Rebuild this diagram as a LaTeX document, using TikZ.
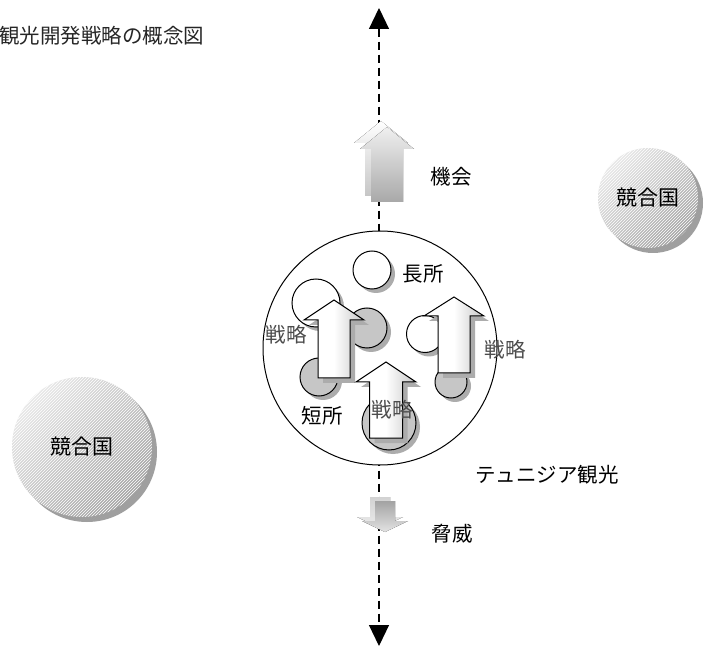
\documentclass[tikz,border=0pt]{standalone}
\usepackage{fontspec}
\setmainfont{Noto Sans CJK JP}
\usetikzlibrary{arrows.meta,shadows,patterns}
\newcommand\uparrowpath[6]{(#1-#5,#4) -- (#1-#5,#3) -- (#1-#6,#3) -- (#1,#2) -- (#1+#6,#3) -- (#1+#5,#3) -- (#1+#5,#4) -- cycle}
\newcommand\downarrowpath[6]{(#1-#5,#4) -- (#1-#5,#3) -- (#1-#6,#3) -- (#1,#2) -- (#1+#6,#3) -- (#1+#5,#3) -- (#1+#5,#4) -- cycle}
\tikzset{
  lbl/.style={inner sep=0pt, font=\fontsize{20.5pt}{24pt}\selectfont},
  stratlbl/.style={lbl, text=black!70},
  sc/.style={circle, draw=black, line width=1pt, inner sep=0pt,
    drop shadow={shadow xshift=4pt, shadow yshift=-4pt, fill=gray!65, opacity=1}},
  wcirc/.style={sc, fill=white},
  gcirc/.style={sc, fill=gray!45},
  rival/.style={circle, inner sep=0pt, top color=gray!18, bottom color=gray!72, shading angle=45,
    drop shadow={shadow xshift=5pt, shadow yshift=-5pt, fill=gray!75, opacity=1},
    postaction={pattern=north east lines, pattern color=white},
    font=\fontsize{21pt}{24pt}\selectfont},
  inarrow/.style={draw=black, line width=1pt, left color=white, right color=gray!45, middle color=white},
  inshadow/.style={fill=gray!65, xshift=5pt, yshift=-5pt},
  axis/.style={line width=1.2pt, dash pattern=on 8pt off 5pt,
    {Triangle[width=20pt,length=21pt]}-{Triangle[width=20pt,length=21pt]}},
}
\begin{document}
\begin{tikzpicture}[x=1pt,y=-1pt]
\useasboundingbox (0,0) rectangle (705,647);
\fill[white] (0,0) rectangle (705,647);

% title
\node[lbl, anchor=west, font=\fontsize{20.5pt}{24pt}\selectfont, text=black!85] (title) at (-1,36) {観光開発戦略の概念図};

% axis
\coordinate (top) at (379,8);
\coordinate (bot) at (379,646);
\draw[axis] (top) -- (bot);

% opportunity arrow
\fill[top color=white, bottom color=gray!45] \uparrowpath{381}{121}{143}{196}{16}{27};
\fill[top color=gray!12, bottom color=gray!68] \uparrowpath{387}{127}{149}{202}{16}{27};
\node[lbl] (opp) at (451,177) {機会};

% threat arrow
\fill[top color=gray!35, bottom color=gray!15] \downarrowpath{380}{528}{517}{497}{10}{23};
\fill[top color=gray!72, bottom color=gray!22] \downarrowpath{385}{532}{521}{501}{10}{23};
\node[lbl] (threat) at (452,534) {脅威};

% tourism circle
\node[circle, draw=black, line width=1pt, fill=white, minimum size=234pt, inner sep=0pt] (tour) at (380,348) {};
\node[lbl] (tourlbl) at (547,475) {テュニジア観光};

% small circles
\node[wcirc, minimum size=38pt] (s1) at (372,270) {};
\node[wcirc, minimum size=48pt] (s2) at (316,303) {};
\node[gcirc, minimum size=40pt] (w1) at (367,328) {};
\node[wcirc, minimum size=37pt] (s3) at (425,334) {};
\node[gcirc, minimum size=38pt] (w2) at (319,377) {};
\node[gcirc, minimum size=32pt] (w3) at (451,382) {};
\node[gcirc, minimum size=54pt] (w4) at (389,423) {};

\node[lbl] (good) at (423,274) {長所};
\node[lbl] (bad) at (322,416) {短所};

% strategy arrows
\fill[inshadow] \uparrowpath{334}{300}{320}{378}{16}{30};
\path[inarrow] \uparrowpath{334}{300}{320}{378}{16}{30};
\fill[inshadow] \uparrowpath{454}{297}{316}{373}{16}{30};
\path[inarrow] \uparrowpath{454}{297}{316}{373}{16}{30};
\fill[inshadow] \uparrowpath{386}{362}{382}{438}{16.5}{30};
\path[inarrow] \uparrowpath{386}{362}{382}{438}{16.5}{30};

\node[stratlbl] (st1) at (286,335) {戦略};
\node[stratlbl] (st2) at (505,350) {戦略};
\node[stratlbl] (st3) at (392,410) {戦略};

% rivals
\node[rival, minimum size=100pt] (r1) at (648,198) {競合国};
\node[rival, minimum size=140pt] (r2) at (82,447) {競合国};
\end{tikzpicture}
\end{document}
